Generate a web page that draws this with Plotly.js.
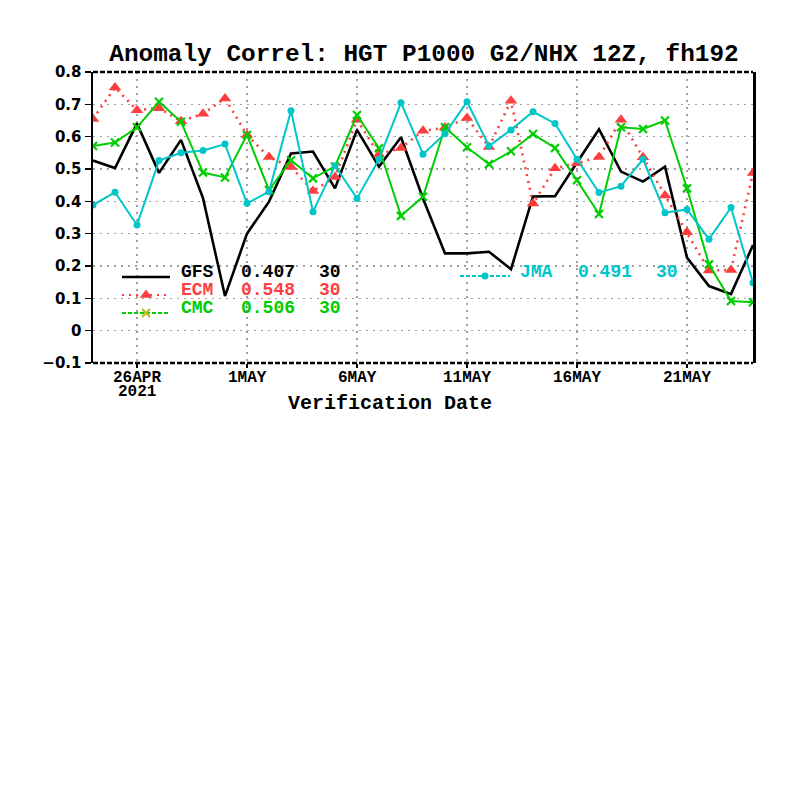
<!DOCTYPE html>
<html>
<head>
<meta charset="utf-8">
<script src="https://cdn.plot.ly/plotly-3.0.1.min.js"></script>
<style>
  html, body { margin: 0; padding: 0; background: #fff; }
  #chart { width: 800px; height: 800px; }
</style>
</head>
<body>
<div id="chart"></div>
<script>
// Verification dates (daily, 12Z)
const dates = [
  '2021-04-24','2021-04-25','2021-04-26','2021-04-27','2021-04-28','2021-04-29','2021-04-30',
  '2021-05-01','2021-05-02','2021-05-03','2021-05-04','2021-05-05','2021-05-06','2021-05-07',
  '2021-05-08','2021-05-09','2021-05-10','2021-05-11','2021-05-12','2021-05-13','2021-05-14',
  '2021-05-15','2021-05-16','2021-05-17','2021-05-18','2021-05-19','2021-05-20','2021-05-21',
  '2021-05-22','2021-05-23','2021-05-24'
];

// Anomaly correlation per model
const gfs = [0.526, 0.503, 0.641, 0.488, 0.590, 0.410, 0.107, 0.300, 0.399, 0.548, 0.554,
             0.440, 0.621, 0.507, 0.598, 0.409, 0.239, 0.239, 0.244, 0.190, 0.415, 0.416,
             0.520, 0.623, 0.492, 0.461, 0.507, 0.226, 0.138, 0.113, 0.265];
const ecm = [0.655, 0.752, 0.682, 0.688, 0.648, 0.671, 0.718, 0.605, 0.537, 0.506, 0.432,
             0.475, 0.652, 0.545, 0.565, 0.618, 0.628, 0.658, 0.568, 0.711, 0.393, 0.502,
             0.518, 0.537, 0.652, 0.536, 0.418, 0.304, 0.186, 0.188, 0.488];
const cmc = [0.571, 0.582, 0.629, 0.708, 0.646, 0.489, 0.474, 0.605, 0.435, 0.527, 0.471,
             0.508, 0.667, 0.564, 0.355, 0.414, 0.629, 0.567, 0.515, 0.555, 0.608, 0.565,
             0.465, 0.361, 0.629, 0.624, 0.650, 0.440, 0.205, 0.092, 0.088];
const jma = [0.389, 0.428, 0.327, 0.526, 0.550, 0.557, 0.577, 0.394, 0.430, 0.680, 0.368,
             0.510, 0.409, 0.530, 0.705, 0.546, 0.609, 0.708, 0.571, 0.621, 0.677, 0.641,
             0.530, 0.427, 0.447, 0.530, 0.365, 0.375, 0.283, 0.381, 0.148];

// Legend entries: name, mean score, number of cases
const legendNames = ['GFS', 'ECM', 'CMC', 'JMA'];
const legendMeans = ['0.407', '0.548', '0.506', '0.491'];
const legendCounts = ['30', '30', '30', '30'];

// Date ticks
const tickDates = ['2021-04-26','2021-05-01','2021-05-06','2021-05-11','2021-05-16','2021-05-21'];
const tickLabels = ['26APR','1MAY','6MAY','11MAY','16MAY','21MAY'];
const yearLabel = '2021';

const RED = 'rgb(252,62,62)';
const GREEN = 'rgb(0,206,0)';
const CYAN = 'rgb(0,198,200)';
const BLACK = '#000';
const colors = [BLACK, RED, GREEN, CYAN];

// plot area in pixels
const L = 93, R = 753, T = 72, B = 363;
const px = x => (x - L) / (R - L);
const py = y => (B - y) / (B - T);

const traces = [
  { x: dates, y: gfs, mode: 'lines', line: { color: BLACK, width: 2.6 }, name: 'GFS' },
  { x: dates, y: ecm, mode: 'lines+markers', line: { color: RED, width: 2.6, dash: '2px,5px' },
    marker: { symbol: 'triangle-up', size: 11, color: RED }, name: 'ECM' },
  { x: dates, y: cmc, mode: 'lines+markers', line: { color: GREEN, width: 2 },
    marker: { symbol: 'x-thin-open', size: 8, line: { color: GREEN, width: 2.2 } }, name: 'CMC' },
  { x: dates, y: jma, mode: 'lines+markers', line: { color: CYAN, width: 2 },
    marker: { symbol: 'circle', size: 7, color: CYAN }, name: 'JMA' }
];

// legend samples (drawn on a hidden overlay axis spanning the plot area)
const legendRows = [
  { x0: 122, x1: 170, y: 277, dash: 'solid', sym: null },
  { x0: 122, x1: 170, y: 295, dash: '2px,5px', sym: 'triangle-up' },
  { x0: 122, x1: 170, y: 313, dash: '4px,2px', sym: 'x-thin-open' },
  { x0: 460, x1: 510, y: 276, dash: '4px,2px', sym: 'circle' }
];
legendRows.forEach((r, i) => {
  traces.push({
    x: [px(r.x0), px(r.x1)], y: [py(r.y), py(r.y)], xaxis: 'x2', yaxis: 'y2',
    mode: 'lines', line: { color: colors[i], width: i === 0 ? 2.6 : 2, dash: r.dash },
    hoverinfo: 'skip', showlegend: false
  });
  if (r.sym) {
    const mk = r.sym === 'x-thin-open'
      ? { symbol: r.sym, size: 8, line: { color: colors[i], width: 2.2 } }
      : { symbol: r.sym, size: r.sym === 'circle' ? 7 : 11, color: colors[i] };
    traces.push({
      x: [px((r.x0 + r.x1) / 2)], y: [py(r.y)], xaxis: 'x2', yaxis: 'y2',
      mode: 'markers', marker: mk, hoverinfo: 'skip', showlegend: false
    });
  }
});

const monoFont = 'Liberation Mono, Courier New, monospace';
const annotations = [];
const textRows = [
  { y: 272, x: [180, 240, 318] },
  { y: 290, x: [180, 240, 318] },
  { y: 308, x: [180, 240, 318] },
  { y: 272, x: [519, 577, 655] }
];
textRows.forEach((r, i) => {
  [legendNames[i], legendMeans[i], legendCounts[i]].forEach((t, k) => {
    annotations.push({
      xref: 'paper', yref: 'paper', x: px(r.x[k]), y: py(r.y),
      xanchor: 'left', yanchor: 'middle', showarrow: false, text: '<b>' + t + '</b>',
      font: { family: monoFont, size: 18, color: colors[i] }, borderpad: 0
    });
  });
});

// date tick labels placed on the date axis, with the year under the first one
tickDates.forEach((d, i) => {
  annotations.push({
    xref: 'x', yref: 'paper', x: d, y: py(378), xanchor: 'center', yanchor: 'middle',
    showarrow: false, text: '<b>' + tickLabels[i] + '</b>', borderpad: 0,
    font: { family: monoFont, size: 16, color: BLACK }
  });
});
annotations.push({
  xref: 'x', yref: 'paper', x: tickDates[0], y: py(392), xanchor: 'center', yanchor: 'middle',
  showarrow: false, text: '<b>' + yearLabel + '</b>', borderpad: 0,
  font: { family: monoFont, size: 16, color: BLACK }
});
annotations.push({
  xref: 'paper', yref: 'paper', x: px(390), y: py(403), xanchor: 'center', yanchor: 'middle',
  showarrow: false, text: '<b>Verification Date</b>', borderpad: 0,
  font: { family: monoFont, size: 20, color: BLACK }
});

const layout = {
  width: 800, height: 800,
  margin: { l: L, r: 800 - R, t: T, b: 800 - B },
  paper_bgcolor: '#fff', plot_bgcolor: '#fff',
  showlegend: false,
  title: {
    text: '<b>Anomaly Correl: HGT P1000 G2/NHX 12Z, fh192</b>',
    x: px(424), xref: 'paper', xanchor: 'center',
    y: 1 - 52 / 800, yref: 'container', yanchor: 'middle',
    font: { family: monoFont, size: 24.4, color: BLACK }
  },
  xaxis: {
    type: 'date', range: ['2021-04-24', '2021-05-24'],
    tickmode: 'array', tickvals: tickDates, showticklabels: false,
    ticks: 'outside', ticklen: 4, tickwidth: 1.5, tickcolor: BLACK,
    showgrid: true, gridcolor: 'rgb(160,160,160)', gridwidth: 1.5, griddash: '2px,5px',
    showline: false, zeroline: false, fixedrange: true
  },
  yaxis: {
    range: [-0.1, 0.8], dtick: 0.1, tick0: 0,
    ticks: 'outside', ticklen: 6, tickwidth: 1.5, tickcolor: BLACK,
    tickfont: { family: 'DejaVu Sans, sans-serif', size: 15, color: BLACK, weight: 'bold' },
    showgrid: true, gridcolor: 'rgb(160,160,160)', gridwidth: 1.5, griddash: '2px,5px',
    showline: true, mirror: true, linecolor: BLACK, linewidth: 2.5,
    zeroline: false, fixedrange: true
  },
  xaxis2: { overlaying: 'x', range: [0, 1], visible: false, fixedrange: true },
  yaxis2: { overlaying: 'y', range: [0, 1], visible: false, fixedrange: true },
  shapes: [
    { type: 'line', xref: 'paper', yref: 'paper', x0: 0, x1: 1, y0: 1, y1: 1,
      line: { color: BLACK, width: 2.5, dash: '5px,2px' } },
    { type: 'line', xref: 'paper', yref: 'paper', x0: 0, x1: 1, y0: 0, y1: 0,
      line: { color: BLACK, width: 2.5, dash: '5px,2px' } }
  ],
  annotations: annotations
};

Plotly.newPlot('chart', traces, layout, { staticPlot: true, displayModeBar: false });
</script>
</body>
</html>
